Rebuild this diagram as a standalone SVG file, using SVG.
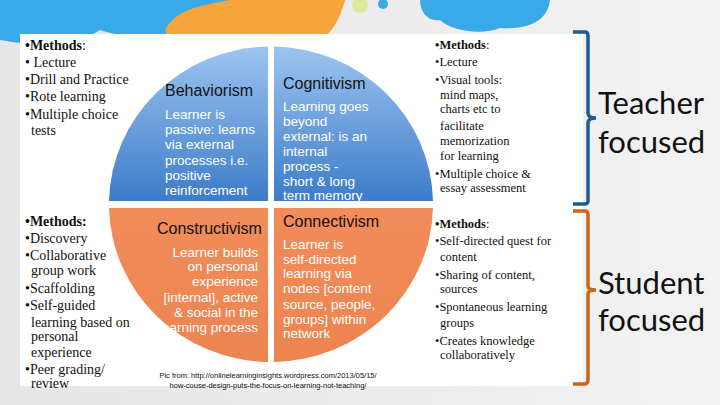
<svg xmlns="http://www.w3.org/2000/svg" width="720" height="405" viewBox="0 0 720 405">
<defs>
<linearGradient id="bg" x1="0" y1="0" x2="1" y2="0"><stop offset="0" stop-color="#e6e6e6"/><stop offset="1" stop-color="#f2f2f2"/></linearGradient>
<linearGradient id="blue" x1="0" y1="0" x2="0" y2="1"><stop offset="0" stop-color="#9cc4f0"/><stop offset="1" stop-color="#3d7cc9"/></linearGradient>
<linearGradient id="orange" x1="0" y1="0" x2="0" y2="1"><stop offset="0" stop-color="#f28c5a"/><stop offset="1" stop-color="#ec8450"/></linearGradient>
<style>
.m{font-family:"Liberation Serif",serif;font-size:14px;fill:#111}
.mb{font-weight:bold}
.r{font-family:"Liberation Serif",serif;font-size:12.5px;fill:#111}
.t{font-family:"Liberation Sans",Arial,sans-serif;font-size:16px;fill:#111}
.b{font-family:"Liberation Sans",Arial,sans-serif;font-size:13.5px;fill:#fff}
.f{font-family:Lato,"Open Sans",sans-serif;font-size:31px;fill:#111}
.c{font-family:"Liberation Sans",sans-serif;font-size:7.5px;fill:#111}
</style>
</defs>
<rect width="720" height="405" fill="url(#bg)"/>
<g id="decor">
<path d="M0,0 H330 C320,20 300,30 270,28 C250,40 220,35 210,28 C180,40 130,40 100,30 C70,50 30,45 0,40 Z" fill="#3aa9e8"/>
<path d="M165,30 C175,10 200,5 230,0 H345 C340,20 330,35 320,40 H170 Z" fill="#f5a53a"/>
<path d="M420,0 H550 C548,20 530,30 500,28 C480,36 450,30 440,20 C428,22 420,12 420,0 Z" fill="#3aa9e8"/>
<circle cx="360" cy="5" r="8" fill="#dbe99a"/>
<circle cx="383" cy="4" r="5" fill="#3aa9e8"/>
</g>
<rect x="20" y="34" width="563" height="352" fill="#fff"/>
<g id="behaviorism">
<path d="M268,201 H109 A162,158 0 0 1 268,46.5 Z" fill="url(#blue)"/>
<text class="t" x="165" y="96">Behaviorism</text>
<text class="b" x="165" y="119">Learner is</text>
<text class="b" x="165" y="134">passive: learns</text>
<text class="b" x="165" y="149">via external</text>
<text class="b" x="165" y="165">processes i.e.</text>
<text class="b" x="165" y="180">positive</text>
<text class="b" x="165" y="195">reinforcement</text>
</g>
<g id="cognitivism">
<path d="M274,201 H433 A162,158 0 0 0 274,46.5 Z" fill="url(#blue)"/>
<text class="t" x="283" y="89">Cognitivism</text>
<text class="b" x="283" y="111">Learning goes</text>
<text class="b" x="283" y="126">beyond</text>
<text class="b" x="283" y="141">external: is an</text>
<text class="b" x="283" y="156">internal</text>
<text class="b" x="283" y="171">process -</text>
<text class="b" x="283" y="186">short &amp; long</text>
<text class="b" x="283" y="200">term  memory</text>
</g>
<g id="constructivism">
<path d="M268,208 H109 A162,158 0 0 0 268,362 Z" fill="url(#orange)"/>
<text class="t" x="157" y="234">Constructivism</text>
<g text-anchor="end">
<text class="b" x="258" y="257">Learner builds</text>
<text class="b" x="258" y="271">on personal</text>
<text class="b" x="258" y="286">experience</text>
<text class="b" x="258" y="302">[internal], active</text>
<text class="b" x="258" y="317">&amp; social in the</text>
<text class="b" x="258" y="332">learning process</text>
</g>
</g>
<g id="connectivism">
<path d="M274,208 H433 A162,158 0 0 1 274,362 Z" fill="url(#orange)"/>
<text class="t" x="283" y="227">Connectivism</text>
<text class="b" x="283" y="249">Learner is</text>
<text class="b" x="283" y="264">self-directed</text>
<text class="b" x="283" y="278">learning via</text>
<text class="b" x="283" y="293">nodes [content</text>
<text class="b" x="283" y="309">source, people,</text>
<text class="b" x="283" y="324">groups] within</text>
<text class="b" x="283" y="338">network</text>
</g>
<g id="left-methods">
<text class="m" x="25" y="50"><tspan class="mb">•Methods</tspan>:</text>
<text class="m" x="25" y="67">• Lecture</text>
<text class="m" x="25" y="84">•Drill and Practice</text>
<text class="m" x="25" y="101">•Rote learning</text>
<text class="m" x="25" y="119">•Multiple choice</text>
<text class="m" x="31" y="135">tests</text>
<text class="m mb" x="25" y="226">•Methods:</text>
<text class="m" x="25" y="243">•Discovery</text>
<text class="m" x="25" y="260">•Collaborative</text>
<text class="m" x="31" y="275">group work</text>
<text class="m" x="25" y="293">•Scaffolding</text>
<text class="m" x="25" y="310">•Self-guided</text>
<text class="m" x="31" y="327">learning based on</text>
<text class="m" x="31" y="341">personal</text>
<text class="m" x="31" y="357">experience</text>
<text class="m" x="25" y="374">•Peer grading/</text>
<text class="m" x="31" y="388">review</text>
</g>
<g id="right-methods">
<text class="r" x="435" y="49"><tspan class="mb">•Methods</tspan>:</text>
<text class="r" x="435" y="66">•Lecture</text>
<text class="r" x="435" y="84">•Visual tools:</text>
<text class="r" x="440" y="99">mind maps,</text>
<text class="r" x="440" y="113">charts etc to</text>
<text class="r" x="440" y="130">facilitate</text>
<text class="r" x="440" y="145">memorization</text>
<text class="r" x="440" y="160">for learning</text>
<text class="r" x="435" y="178">•Multiple choice &amp;</text>
<text class="r" x="440" y="192" font-size="11">essay assessment</text>
<text class="r" x="435" y="228"><tspan class="mb">•Methods</tspan>:</text>
<text class="r" x="435" y="245">•Self-directed quest for</text>
<text class="r" x="440" y="261">content</text>
<text class="r" x="435" y="279">•Sharing of content,</text>
<text class="r" x="440" y="293">sources</text>
<text class="r" x="435" y="311">•Spontaneous learning</text>
<text class="r" x="440" y="327">groups</text>
<text class="r" x="435" y="345">•Creates knowledge</text>
<text class="r" x="440" y="359">collaboratively</text>
</g>
<g id="brackets" fill="none" stroke-width="3.5">
<path d="M573,32 H585 Q588,32 588,36 V113 Q588,118 596,118 Q588,118 588,123 V201 Q588,204 584,204 H573" stroke="#1f5c8f"/>
<path d="M573,211 H585 Q588,211 588,215 V286 Q588,290 596,290 Q588,290 588,294 V380 Q588,384 584,384 H573" stroke="#c8661a"/>
</g>
<g id="labels">
<text class="f" x="598" y="114">Teacher</text>
<text class="f" x="598" y="153">focused</text>
<text class="f" x="598" y="294">Student</text>
<text class="f" x="598" y="331">focused</text>
</g>
<g id="caption" text-anchor="middle">
<text class="c" x="268" y="378">Pic from: http://onlinelearninginsights.wordpress.com/2013/05/15/</text>
<text class="c" x="268" y="388">how-couse-design-puts-the-focus-on-learning-not-teaching/</text>
</g>
</svg>
